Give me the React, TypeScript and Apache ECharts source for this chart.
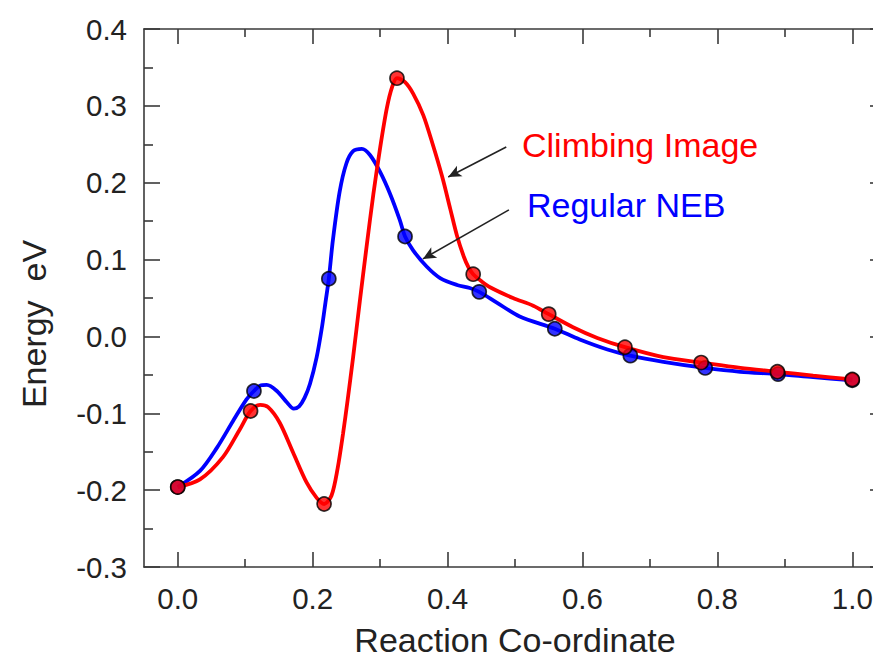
import React, { useEffect, useRef } from "react";
import * as echarts from "echarts";

// Images (markers)
const climbingImages: [number, number][] = [
  [0, -0.196], [0.108, -0.097], [0.217, -0.218], [0.325, 0.336], [0.438, 0.081],
  [0.55, 0.029], [0.663, -0.014], [0.776, -0.034], [0.889, -0.046], [1.0, -0.056],
];
const regularImages: [number, number][] = [
  [0, -0.196], [0.113, -0.071], [0.224, 0.075], [0.337, 0.13], [0.447, 0.058],
  [0.559, 0.01], [0.671, -0.025], [0.782, -0.041], [0.89, -0.049], [1.0, -0.057],
];

// Curves
const climbingCurve: [number, number][] = [
  [0, -0.196], [0.033, -0.186], [0.067, -0.157], [0.092, -0.121], [0.108, -0.097],
  [0.122, -0.089], [0.134, -0.092], [0.151, -0.112], [0.171, -0.151], [0.191, -0.19],
  [0.206, -0.21], [0.217, -0.218], [0.228, -0.207], [0.237, -0.172], [0.245, -0.127],
  [0.252, -0.082], [0.26, -0.027], [0.27, 0.046], [0.28, 0.117], [0.29, 0.185],
  [0.3, 0.245], [0.31, 0.297], [0.318, 0.325], [0.325, 0.336], [0.337, 0.331],
  [0.349, 0.316], [0.364, 0.288], [0.378, 0.25], [0.392, 0.208], [0.404, 0.166],
  [0.414, 0.131], [0.424, 0.104], [0.431, 0.09], [0.438, 0.081], [0.45, 0.072],
  [0.463, 0.064], [0.497, 0.05], [0.527, 0.04], [0.55, 0.029], [0.586, 0.012],
  [0.622, -0.002], [0.663, -0.014], [0.72, -0.027], [0.776, -0.034], [0.834, -0.041],
  [0.889, -0.046], [0.942, -0.051], [1.0, -0.056],
];
const regularCurve: [number, number][] = [
  [0, -0.196], [0.033, -0.175], [0.058, -0.145], [0.082, -0.11], [0.102, -0.082],
  [0.113, -0.071], [0.122, -0.064], [0.132, -0.063], [0.147, -0.071], [0.162, -0.086],
  [0.172, -0.094], [0.18, -0.091], [0.188, -0.08], [0.196, -0.062], [0.206, -0.027],
  [0.214, 0.013], [0.219, 0.044], [0.224, 0.075], [0.23, 0.125], [0.24, 0.188],
  [0.25, 0.225], [0.26, 0.241], [0.273, 0.244], [0.285, 0.236], [0.3, 0.214],
  [0.315, 0.185], [0.329, 0.152], [0.337, 0.13], [0.349, 0.112], [0.369, 0.091],
  [0.389, 0.076], [0.414, 0.067], [0.433, 0.063], [0.447, 0.058], [0.473, 0.044],
  [0.507, 0.026], [0.559, 0.01], [0.596, -0.004], [0.637, -0.017], [0.671, -0.025],
  [0.72, -0.033], [0.782, -0.041], [0.834, -0.046], [0.89, -0.049], [0.942, -0.053],
  [1.0, -0.057],
];

const xMajorTicks = [0, 0.2, 0.4, 0.6, 0.8, 1.0];
const xMinorTicks = [0.1, 0.3, 0.5, 0.7, 0.9];

// Annotation arrows (tail -> head), in data units
const arrowCI: [number, number][] = [[0.487, 0.2465], [0.401, 0.2075]];
const arrowNEB: [number, number][] = [[0.491, 0.1646], [0.3635, 0.1009]];

const FONT = "'Liberation Sans', Arial, Helvetica, sans-serif";
const AXIS = "#3a3a3a";

export default function App() {
  const ref = useRef<HTMLDivElement>(null);
  useEffect(() => {
    if (!ref.current) return;
    const chart = echarts.init(ref.current, undefined, { renderer: "svg" });
    const axisLineStyle = { color: AXIS, width: 1.6 };
    const tickStyle = { color: AXIS, width: 1.6 };
    const fmt = (v: number) => v.toFixed(1);
    const line = (show: boolean) => ({ show, onZero: false, lineStyle: axisLineStyle });
    chart.setOption({
      animation: false,
      backgroundColor: "#ffffff",
      grid: { left: 144, top: 29, width: 742, height: 538, containLabel: false, outerBoundsMode: "none" },
      xAxis: [
        {
          type: "value", min: -0.05, max: 1.05, position: "bottom",
          axisLine: line(true),
          axisTick: { show: true, inside: true, length: 15, lineStyle: tickStyle, customValues: xMajorTicks },
          axisLabel: { show: true, customValues: xMajorTicks, formatter: fmt, fontSize: 29.5, color: "#222", fontFamily: FONT, margin: 16 },
          splitLine: { show: false },
          name: "Reaction Co-ordinate", nameLocation: "middle", nameGap: 56,
          nameTextStyle: { fontSize: 34, color: "#222", fontFamily: FONT },
        },
        {
          type: "value", min: -0.05, max: 1.05, position: "bottom",
          axisLine: line(false),
          axisTick: { show: true, inside: true, length: 8, lineStyle: tickStyle, customValues: xMinorTicks },
          axisLabel: { show: false }, splitLine: { show: false },
        },
        {
          type: "value", min: -0.05, max: 1.05, position: "top",
          axisLine: line(true),
          axisTick: { show: true, inside: true, length: 15, lineStyle: tickStyle, customValues: xMajorTicks },
          axisLabel: { show: false }, splitLine: { show: false },
        },
        {
          type: "value", min: -0.05, max: 1.05, position: "top",
          axisLine: line(false),
          axisTick: { show: true, inside: true, length: 8, lineStyle: tickStyle, customValues: xMinorTicks },
          axisLabel: { show: false }, splitLine: { show: false },
        },
      ],
      yAxis: [
        {
          type: "value", min: -0.3, max: 0.4, interval: 0.1, position: "left",
          axisLine: line(true),
          axisTick: { show: true, inside: true, length: 16, lineStyle: tickStyle },
          minorTick: { show: true, splitNumber: 2, length: 9, lineStyle: tickStyle },
          axisLabel: { formatter: fmt, fontSize: 29.5, color: "#222", fontFamily: FONT, margin: 17 },
          splitLine: { show: false },
        },
        {
          type: "value", min: -0.3, max: 0.4, interval: 0.1, position: "right",
          axisLine: line(true),
          axisTick: { show: true, inside: true, length: 16, lineStyle: tickStyle },
          minorTick: { show: true, splitNumber: 2, length: 9, lineStyle: tickStyle },
          axisLabel: { show: false }, splitLine: { show: false },
        },
      ],
      series: [
        {
          type: "line", name: "Regular NEB curve", data: regularCurve, xAxisIndex: 0, yAxisIndex: 0,
          showSymbol: false, smooth: 0.3, lineStyle: { color: "#0000ff", width: 3.8 }, z: 2,
        },
        {
          type: "line", name: "Climbing Image curve", data: climbingCurve, xAxisIndex: 0, yAxisIndex: 0,
          showSymbol: false, smooth: 0.3, lineStyle: { color: "#ff0000", width: 3.8 }, z: 3,
          markLine: {
            silent: true, symbol: ["none", "arrow"], symbolSize: [9, 13],
            lineStyle: { color: "#222", width: 1.6, type: "solid" }, label: { show: false },
            data: [
              [{ coord: arrowCI[0] }, { coord: arrowCI[1] }],
              [{ coord: arrowNEB[0] }, { coord: arrowNEB[1] }],
            ],
          },
        },
        {
          type: "scatter", name: "Regular NEB", data: regularImages, symbolSize: 14,
          itemStyle: { color: "#0000ff", borderColor: "#000", borderWidth: 1.7 }, z: 4,
        },
        {
          type: "scatter", name: "Climbing Image", data: climbingImages, symbolSize: 14,
          itemStyle: { color: "#ff0000", borderColor: "#000", borderWidth: 1.7 }, z: 5,
        },
      ],
      graphic: [
        {
          type: "text", x: 34, y: 324, rotation: Math.PI / 2,
          style: { text: "Energy  eV", fill: "#222", fontSize: 34, fontFamily: FONT, align: "center", verticalAlign: "middle" },
        },
        {
          type: "text", x: 522, y: 145,
          style: { text: "Climbing Image", fill: "#ff0000", fontSize: 34, fontFamily: FONT, align: "left", verticalAlign: "middle" },
        },
        {
          type: "text", x: 527, y: 205,
          style: { text: "Regular NEB", fill: "#0000ff", fontSize: 34, fontFamily: FONT, align: "left", verticalAlign: "middle" },
        },
      ],
    });
    return () => chart.dispose();
  }, []);
  return (
    <div
      ref={ref}
      style={{ position: "fixed", left: 0, top: 0, width: 873, height: 659, background: "#fff" }}
    />
  );
}
